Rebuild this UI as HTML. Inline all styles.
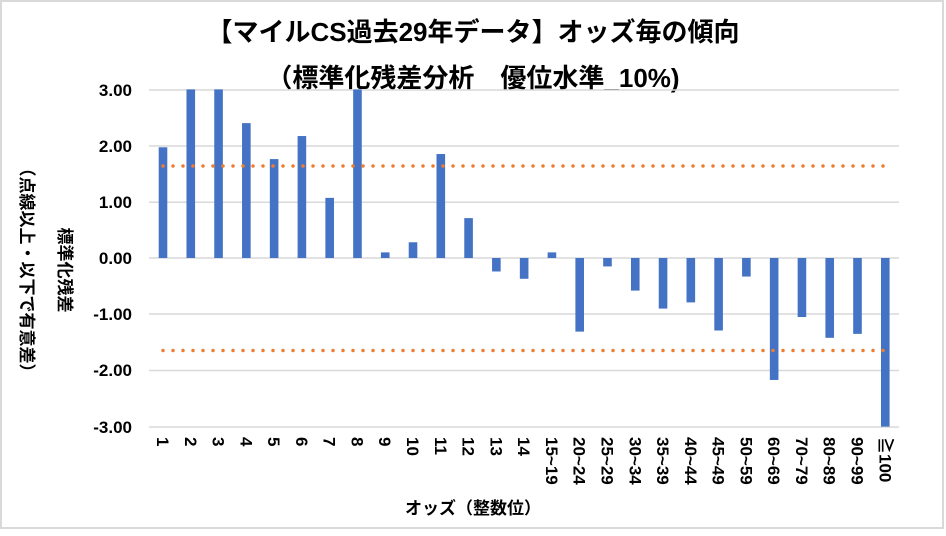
<!DOCTYPE html>
<html><head><meta charset="utf-8"><style>
body{margin:0;background:#fff}
svg text{font-family:"Liberation Sans","Noto Sans CJK JP",sans-serif;font-weight:bold;fill:#000}
</style></head><body>
<svg width="946" height="531" xmlns="http://www.w3.org/2000/svg">
<rect x="1" y="1" width="942" height="527" fill="#fff" stroke="#d9d9d9" stroke-width="2"/>
<text x="473" y="41" font-size="26" text-anchor="middle">【マイルCS過去29年データ】オッズ毎の傾向</text>
<text x="473" y="87" font-size="26" text-anchor="middle">（標準化残差分析　優位水準_10%)</text>
<g stroke="#d9d9d9" stroke-width="1.5">
<line x1="149" x2="899" y1="90" y2="90"/><line x1="149" x2="899" y1="146" y2="146"/>
<line x1="149" x2="899" y1="202.2" y2="202.2"/><line x1="149" x2="899" y1="258" y2="258"/>
<line x1="149" x2="899" y1="314" y2="314"/><line x1="149" x2="899" y1="370.5" y2="370.5"/>
<line x1="149" x2="899" y1="427" y2="427"/>
</g>
<g font-size="17" text-anchor="end">
<text x="132" y="96">3.00</text><text x="132" y="152">2.00</text><text x="132" y="208">1.00</text>
<text x="132" y="264">0.00</text><text x="132" y="320">-1.00</text><text x="132" y="376">-2.00</text><text x="132" y="433">-3.00</text>
</g>
<g id="bars" fill="#4472c4"></g>
<g stroke="#ed7d31" stroke-width="3.5" stroke-linecap="round" stroke-dasharray="0 10">
<line x1="163" x2="885" y1="166" y2="166"/><line x1="163" x2="885" y1="350.5" y2="350.5"/>
</g>
<g id="xl" font-size="17"></g>
<text font-size="17" transform="translate(59,270) rotate(90)" text-anchor="middle">標準化残差</text>
<text font-size="17" transform="translate(21,270) rotate(90)" text-anchor="middle">（点線以上・以下で有意差）</text>
<text x="473" y="514" font-size="17" text-anchor="middle">オッズ（整数位）</text>
</svg>
<script>
var v=[1.97,3.0,3.0,2.4,1.76,2.17,1.07,3.0,0.1,0.28,1.85,0.71,-0.24,-0.37,0.1,-1.31,-0.15,-0.58,-0.9,-0.79,-1.29,-0.33,-2.17,-1.05,-1.42,-1.35,-3.0];
var l=["1","2","3","4","5","6","7","8","9","10","11","12","13","14","15~19","20~24","25~29","30~34","35~39","40~44","45~49","50~59","60~69","70~79","80~89","90~99","≧100"];
var ns="http://www.w3.org/2000/svg",b=document.getElementById("bars"),x=document.getElementById("xl");
for(var i=0;i<27;i++){var c=163+i*27.78,y0=258,y1=258-v[i]*56.2;
var r=document.createElementNS(ns,"rect");r.setAttribute("x",c-4.3);r.setAttribute("width",8.6);
r.setAttribute("y",Math.min(y0,y1));r.setAttribute("height",Math.abs(y1-y0));b.appendChild(r);
var t=document.createElementNS(ns,"text");t.setAttribute("transform","translate("+(c-6)+",437) rotate(90)");t.textContent=l[i];x.appendChild(t);}
</script>
</body></html>
